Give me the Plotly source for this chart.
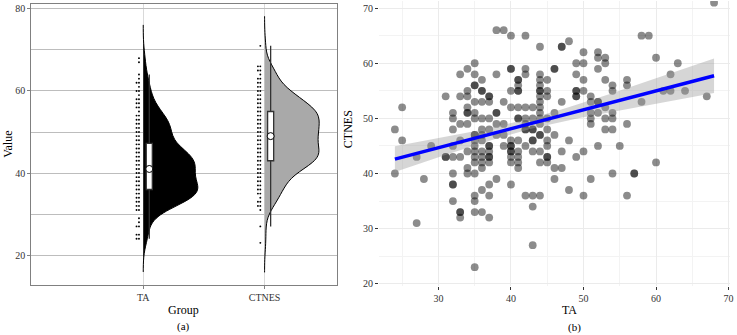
import numpy as np
import plotly.graph_objects as go

# ---------------- data ----------------
pairs = [
    (68,71),
    (38,66),(39,66),
    (40,65),(42,65),(58,65),(59,65),
    (48,64),
    (44,63),(47,63),(47,63),
    (50,62),(52,62),
    (52,61),(53,61),(60,61),
    (35,60),(49,60),(50,60),(53,60),(63,60),
    (34,59),(40,59),(40,59),(42,59),(46,59),(46,59),(52,59),
    (33,58),(35,58),(38,58),(42,58),(44,58),(49,58),(62,58),
    (36,57),(41,57),(41,57),(44,57),(45,57),(50,57),(53,57),(56,57),
    (35,56),(35,56),(41,56),(44,56),(54,56),(56,56),
    (34,55),(36,55),(36,55),(40,55),(41,55),(41,55),(44,55),(44,55),(45,55),(49,55),(49,55),(50,55),(54,55),(61,55),(62,55),(64,55),
    (31,54),(33,54),(34,54),(37,54),(37,54),(44,54),(45,54),(49,54),(49,54),(51,54),(67,54),
    (35,53),(36,53),(37,53),(39,53),(44,53),(47,53),(51,53),(52,53),(52,53),(58,53),
    (25,52),(34,52),(40,52),(41,52),(42,52),(43,52),(44,52),(53,52),
    (32,51),(34,51),(34,51),(35,51),(38,51),(38,51),(44,51),(46,51),(51,51),(52,51),(54,51),
    (32,50),(35,50),(36,50),(37,50),(41,50),(41,50),(42,50),(43,50),(44,50),(45,50),(51,50),(53,50),(54,50),
    (33,49),(34,49),(38,49),(39,49),(42,49),(44,49),(51,49),(56,49),
    (24,48),(32,48),(36,48),(37,48),(42,48),(42,48),(43,48),(43,48),(45,48),(53,48),(54,48),
    (35,47),(35,47),(36,47),(38,47),(39,47),(44,47),(44,47),(46,47),
    (25,46),(33,46),(35,46),(36,46),(40,46),(41,46),(43,46),(43,46),(45,46),(48,46),
    (29,45),(32,45),(35,45),(37,45),(37,45),(39,45),(40,45),(40,45),(42,45),(45,45),(52,45),(55,45),
    (34,44),(35,44),(36,44),(37,44),(40,44),(40,44),(41,44),(43,44),(44,44),(47,44),(50,44),
    (27,43),(31,43),(31,43),(32,43),(33,43),(35,43),(36,43),(37,43),(37,43),(40,43),(41,43),(45,43),(45,43),(49,43),
    (35,42),(36,42),(37,42),(40,42),(41,42),(44,42),(45,42),(60,42),
    (34,41),(36,41),(41,41),(46,41),(47,41),
    (24,40),(32,40),(34,40),(35,40),(54,40),(57,40),(57,40),
    (28,39),(38,39),(46,39),(51,39),
    (32,38),(32,38),(37,38),(40,38),
    (36,37),(48,37),
    (35,36),(37,36),(42,36),(43,36),(44,36),(50,36),(56,36),
    (32,35),(35,35),
    (43,34),
    (33,33),(33,33),(35,33),(36,33),
    (33,32),(37,32),
    (27,31),
    (43,27),
    (35,23),
]
TA = [p[0] for p in pairs]
CTNES = [p[1] for p in pairs]

groups = ["TA", "CTNES"]
group_values = [TA, CTNES]
group_bandwidth = [2.7, 2.4]
group_fill = ["#000000", "#a9a9a9"]

y_ticks_a = [20, 40, 60, 80]
x_ticks_b = [30, 40, 50, 60, 70]
y_ticks_b = [20, 30, 40, 50, 60, 70]

FONT = "Liberation Serif"
W, H = 737, 335

fig = go.Figure()

# ---------------- panel (a): raincloud ----------------
for i, (name, vals, bw, fc) in enumerate(zip(groups, group_values, group_bandwidth, group_fill)):
    v = np.array(vals, dtype=float)
    fig.add_trace(go.Violin(
        y=v, x0=i, side="positive", width=0.9, scalemode="width",
        bandwidth=bw, spanmode="manual", span=[v.min() - 3 * bw, v.max() + 3 * bw],
        fillcolor=fc, line=dict(color="#000000", width=1), opacity=1,
        points=False, box_visible=False, meanline_visible=False,
        hoverinfo="skip", showlegend=False, xaxis="x", yaxis="y"))
    # dot strip (left of the group)
    dx, dy = [], []
    seen = {}
    for val in vals:
        k = seen.get(val, 0)
        seen[val] = k + 1
        if k < 2:
            dx.append(i - 0.035 - 0.02 * k)
            dy.append(val)
    fig.add_trace(go.Scatter(x=dx, y=dy, mode="markers",
                             marker=dict(size=1.9, color="#000000"),
                             hoverinfo="skip", showlegend=False, xaxis="x", yaxis="y"))
    # box
    fig.add_trace(go.Box(
        y=v, x0=i + 0.05, width=0.05, fillcolor="#ffffff",
        line=dict(color="#333333", width=1.3), boxpoints="outliers",
        marker=dict(size=0.1, opacity=0), whiskerwidth=0,
        hoverinfo="skip", showlegend=False, xaxis="x", yaxis="y"))
    fig.add_trace(go.Scatter(x=[i + 0.05], y=[float(np.median(v))], mode="markers",
                             marker=dict(size=7, color="#ffffff", line=dict(color="#000000", width=1)),
                             hoverinfo="skip", showlegend=False, xaxis="x", yaxis="y"))

# ---------------- panel (b): scatter + lm ----------------
x = np.array(TA, dtype=float)
y = np.array(CTNES, dtype=float)
slope, intercept = np.polyfit(x, y, 1)
n = len(x)
xs = np.linspace(x.min(), x.max(), 80)
yhat = intercept + slope * xs
resid = y - (intercept + slope * x)
s = np.sqrt(np.sum(resid ** 2) / (n - 2))
se = s * np.sqrt(1 / n + (xs - x.mean()) ** 2 / np.sum((x - x.mean()) ** 2))
t = 1.97
lo, hi = yhat - t * se, yhat + t * se

fig.add_trace(go.Scatter(x=x, y=y, mode="markers",
                         marker=dict(size=7.8, color="rgba(0,0,0,0.45)", line=dict(width=0)),
                         hoverinfo="skip", showlegend=False, xaxis="x2", yaxis="y2"))
fig.add_trace(go.Scatter(x=np.concatenate([xs, xs[::-1]]), y=np.concatenate([hi, lo[::-1]]),
                         fill="toself", fillcolor="rgba(153,153,153,0.4)", line=dict(width=0),
                         mode="lines", hoverinfo="skip", showlegend=False, xaxis="x2", yaxis="y2"))
fig.add_trace(go.Scatter(x=xs, y=yhat, mode="lines", line=dict(color="#0000ff", width=3.5),
                         hoverinfo="skip", showlegend=False, xaxis="x2", yaxis="y2"))

# ---------------- layout ----------------
def px_x(p):
    return p / W

def px_y(p):
    return 1 - p / H

tickfont = dict(family=FONT, size=10, color="#333333")

fig.update_layout(
    width=W, height=H, margin=dict(l=0, r=0, t=0, b=0),
    paper_bgcolor="#ffffff", plot_bgcolor="#ffffff",
    violinmode="overlay", boxmode="overlay", showlegend=False,
    xaxis=dict(domain=[px_x(31.5), px_x(338.5)], range=[-0.922, 1.594],
               tickvals=[0, 1], ticktext=groups, tickfont=tickfont,
               showgrid=True, gridcolor="#d9d9d9", gridwidth=1, zeroline=False,
               showline=True, mirror=True, linecolor="#808080", linewidth=1,
               ticks="outside", ticklen=3, tickcolor="#808080", anchor="y"),
    yaxis=dict(domain=[px_y(288), px_y(3)], range=[12.8, 81.2],
               tickvals=y_ticks_a, tickfont=tickfont,
               showgrid=True, gridcolor="#bdbdbd", gridwidth=1, zeroline=False,
               minor=dict(dtick=10, tick0=0, showgrid=True, gridcolor="#bdbdbd", gridwidth=1),
               showline=True, mirror=True, linecolor="#808080", linewidth=1,
               ticks="outside", ticklen=3, tickcolor="#808080", anchor="x"),
    xaxis2=dict(domain=[px_x(381), px_x(734)], range=[21.8, 70.2],
                tickvals=x_ticks_b, tickfont=tickfont, ticklabeloverflow="allow",
                showgrid=True, gridcolor="#ebebeb", gridwidth=1, zeroline=False,
                minor=dict(dtick=5, tick0=0, showgrid=True, gridcolor="#f3f3f3", gridwidth=0.8),
                showline=False, ticks="outside", ticklen=3, tickcolor="#333333", anchor="y2"),
    yaxis2=dict(domain=[px_y(289), px_y(0)], range=[19.64, 71.3],
                tickvals=y_ticks_b, tickfont=tickfont, ticklabeloverflow="allow",
                showgrid=True, gridcolor="#ebebeb", gridwidth=1, zeroline=False,
                minor=dict(dtick=5, tick0=0, showgrid=True, gridcolor="#f3f3f3", gridwidth=0.8),
                showline=False, ticks="outside", ticklen=3, tickcolor="#333333", anchor="x2"),
)

ann = [
    ("Value", 8, 145, 12, -90),
    ("Group", 185, 314, 12, 0),
    ("(a)", 185, 330, 11, 0),
    ("CTNES", 350, 130, 12, -90),
    ("TA", 573, 314, 12, 0),
    ("(b)", 578, 331, 11, 0),
]
for text, ax_, ay_, size, ang in ann:
    fig.add_annotation(text=text, x=px_x(ax_), y=px_y(ay_), xref="paper", yref="paper",
                       showarrow=False, textangle=ang, xanchor="center", yanchor="middle",
                       font=dict(family=FONT, size=size, color="#000000"))

fig.write_html("out.html", config={"displayModeBar": False},
               post_script="document.body.style.margin='0';document.body.style.padding='0';document.body.style.overflow='hidden';")
